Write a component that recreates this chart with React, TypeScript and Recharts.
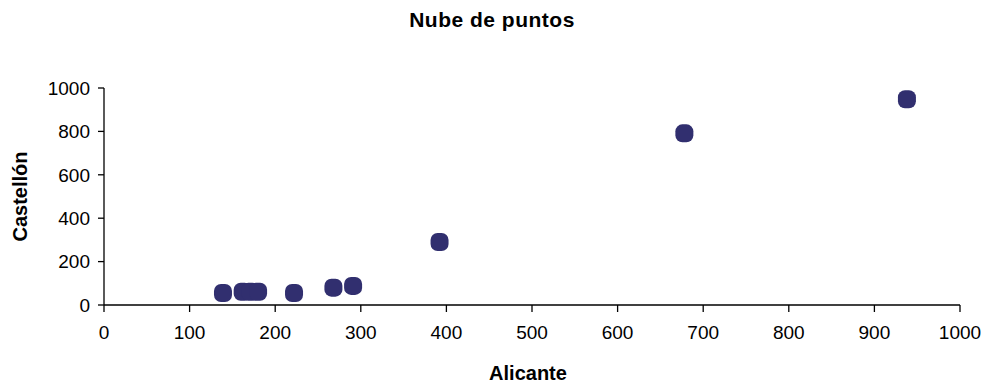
import { Scatter, ScatterChart, XAxis, YAxis } from 'recharts';

const alicante = [139, 162, 171, 180, 222, 268, 291, 392, 678, 938];
const castellon = [55, 61, 61, 61, 55, 80, 88, 290, 791, 948];
const xTicks = [0, 100, 200, 300, 400, 500, 600, 700, 800, 900, 1000];
const yTicks = [0, 200, 400, 600, 800, 1000];

const points = alicante.map((x, i) => ({ x, y: castellon[i] }));

const font = 'Arial, "Liberation Sans", sans-serif';

// rounded square marker like the spreadsheet original
const Marker = (props: any) => {
  const { cx, cy } = props;
  return <rect x={cx - 9} y={cy - 9} width={18} height={18} rx={7} ry={7} fill="#312f6f" />;
};

export default function App() {
  return (
    <div style={{ position: 'absolute', left: 0, top: 0, width: 984, height: 385, background: '#fff', fontFamily: font }}>
      <div
        style={{
          position: 'absolute',
          top: 8,
          left: 0,
          width: 984,
          textAlign: 'center',
          fontWeight: 'bold',
          fontSize: 21,
          letterSpacing: 0.5,
          color: '#000',
        }}
      >
        Nube de puntos
      </div>
      <ScatterChart width={984} height={385} margin={{ top: 88, right: 24, bottom: 0, left: 0 }}>
        <XAxis
          type="number"
          dataKey="x"
          domain={[0, 1000]}
          ticks={xTicks}
          height={80}
          stroke="#000"
          strokeWidth={1.3}
          tickSize={7}
          tickMargin={14}
          tick={{ fill: '#000', fontSize: 19, fontFamily: font }}
          label={{
            content: ({ viewBox }: any) => (
              <text
                x={viewBox.x + viewBox.width / 2 - 4}
                y={viewBox.y + 75}
                textAnchor="middle"
                fontWeight="bold"
                fontSize={20}
                fontFamily={font}
                fill="#000"
              >
                Alicante
              </text>
            ),
          }}
        />
        <YAxis
          type="number"
          dataKey="y"
          domain={[0, 1000]}
          ticks={yTicks}
          width={104}
          stroke="#000"
          strokeWidth={1.3}
          tickSize={6}
          tickMargin={8}
          tick={{ fill: '#000', fontSize: 19, fontFamily: font }}
          label={{
            content: ({ viewBox }: any) => {
              const cx = 20;
              const cy = viewBox.y + viewBox.height / 2;
              return (
                <text
                  x={cx}
                  y={cy}
                  transform={`rotate(-90 ${cx} ${cy})`}
                  textAnchor="middle"
                  dominantBaseline="central"
                  fontWeight="bold"
                  fontSize={20}
                  fontFamily={font}
                  fill="#000"
                >
                  Castellón
                </text>
              );
            },
          }}
        />
        <Scatter data={points} shape={Marker} isAnimationActive={false} />
      </ScatterChart>
    </div>
  );
}
